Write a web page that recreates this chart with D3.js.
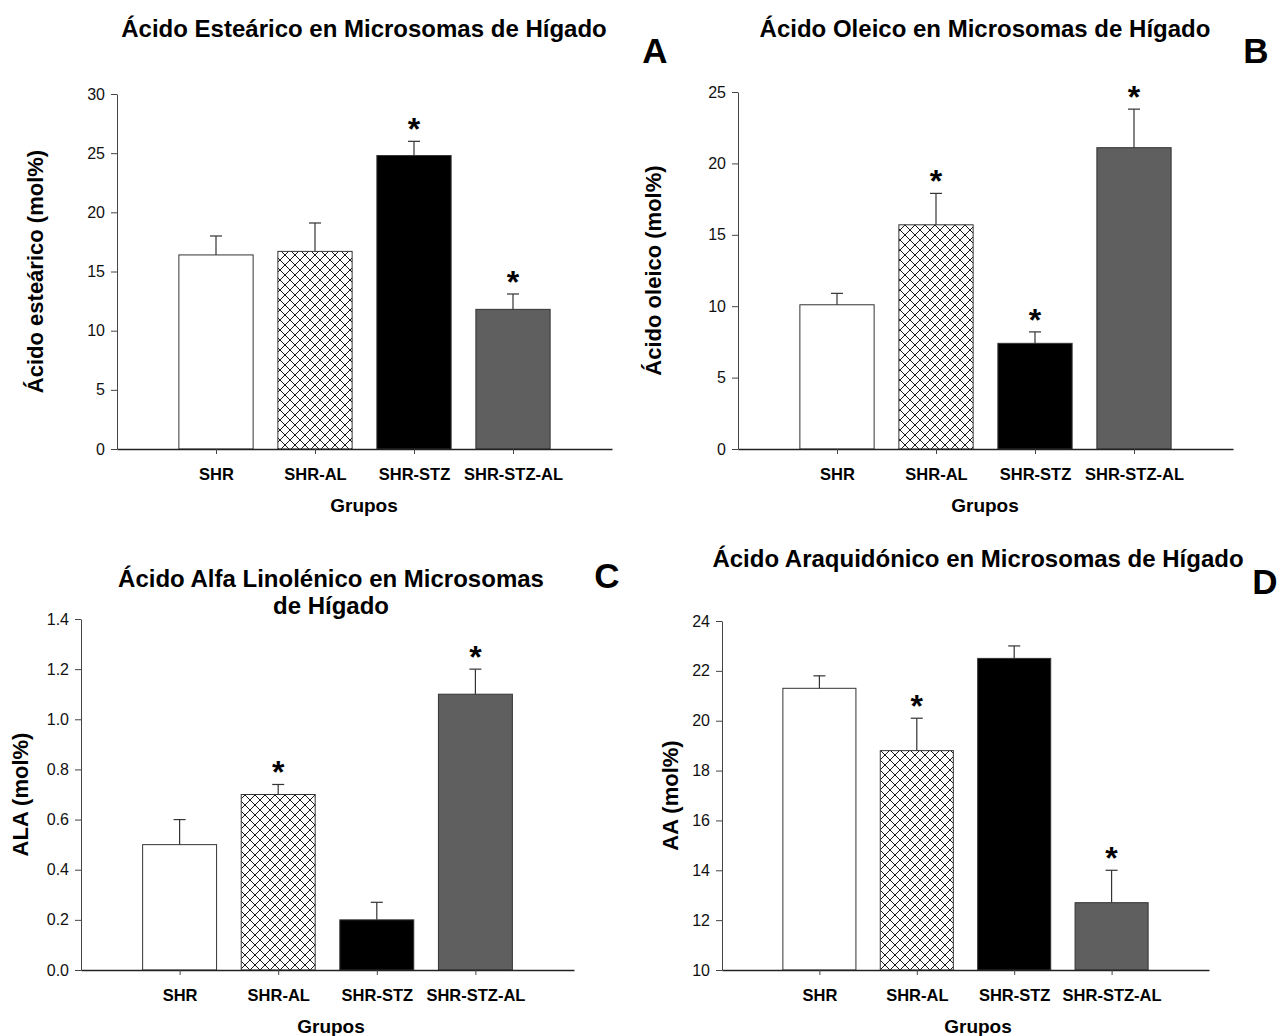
<!DOCTYPE html>
<html>
<head>
<meta charset="utf-8">
<script src="https://cdn.jsdelivr.net/npm/d3@7"></script>
<style>
  body { margin: 0; background: #fff; }
  svg text { font-family: Arial, "Liberation Sans", sans-serif; fill: #000; }
  .tickLbl text { font-size: 16px; fill: #111; }
  .catLbl text { font-size: 16.5px; font-weight: bold; }
</style>
</head>
<body>
<div id="chart"></div>
<script>
// groups and values (mol%)
var groups = ["SHR", "SHR-AL", "SHR-STZ", "SHR-STZ-AL"];
var groupFill = ["#ffffff", "url(#cross)", "#000000", "#5f5f5f"];

var stearic = [16.4, 16.7, 24.8, 11.8];
var stearicSE = [1.6, 2.4, 1.2, 1.3];
var stearicSig = [false, false, true, true];

var oleic = [10.1, 15.7, 7.4, 21.1];
var oleicSE = [0.8, 2.2, 0.8, 2.7];
var oleicSig = [false, true, true, true];

var ala = [0.5, 0.7, 0.2, 1.1];
var alaSE = [0.1, 0.04, 0.07, 0.1];
var alaSig = [false, true, false, true];

var aa = [21.3, 18.8, 22.5, 12.7];
var aaSE = [0.5, 1.3, 0.5, 1.3];
var aaSig = [false, true, false, true];

var stearicTicks = [0, 5, 10, 15, 20, 25, 30];
var oleicTicks = [0, 5, 10, 15, 20, 25];
var alaTicks = [0, 0.2, 0.4, 0.6, 0.8, 1.0, 1.2, 1.4];
var aaTicks = [10, 12, 14, 16, 18, 20, 22, 24];

var svg = d3.select("#chart").append("svg")
  .attr("width", 1280).attr("height", 1036);

var defs = svg.append("defs");
var pat = defs.append("pattern")
  .attr("id", "cross").attr("patternUnits", "userSpaceOnUse")
  .attr("width", 10).attr("height", 10);
pat.append("rect").attr("width", 10).attr("height", 10).attr("fill", "#fff");
pat.append("path").attr("d", "M0,0L10,10M10,0L0,10")
  .attr("stroke", "#000").attr("stroke-width", 0.9);

function drawPanel(o) {
  var g = svg.append("g");
  var x = d3.scaleLinear().domain([0, 5]).range([o.left, o.right]);
  var y = d3.scaleLinear().domain(o.yDomain).range([o.bottom, o.top]);
  var bw = (x(1) - x(0)) * 0.75;

  // bars
  g.selectAll(".bar").data(o.vals).enter().append("rect")
    .attr("x", function(d, i) { return x(i + 1) - bw / 2; })
    .attr("y", function(d) { return y(d); })
    .attr("width", bw)
    .attr("height", function(d) { return y(o.yDomain[0]) - y(d); })
    .attr("fill", function(d, i) { return groupFill[i]; })
    .attr("stroke", "#333").attr("stroke-width", 1);

  // error bars (upper only)
  var eg = g.append("g").attr("stroke", "#333").attr("stroke-width", 1.2);
  o.vals.forEach(function(v, i) {
    var cx = x(i + 1), top = y(v + o.se[i]);
    eg.append("line").attr("x1", cx).attr("x2", cx).attr("y1", y(v)).attr("y2", top);
    eg.append("line").attr("x1", cx - 6).attr("x2", cx + 6).attr("y1", top).attr("y2", top);
    if (o.sig[i]) {
      g.append("text").attr("x", cx).attr("y", top - 1)
        .attr("text-anchor", "middle").attr("font-size", "32px").attr("font-weight", "bold")
        .text("*");
    }
  });

  // y axis
  var ya = g.append("g").attr("class", "tickLbl")
    .attr("transform", "translate(" + o.left + ",0)")
    .call(d3.axisLeft(y).tickValues(o.ticks).tickSize(6).tickSizeOuter(0).tickPadding(6)
      .tickFormat(o.fmt));
  ya.selectAll("line,path").attr("stroke", "#444");

  // x axis
  var xa = g.append("g").attr("class", "catLbl")
    .attr("transform", "translate(0," + o.bottom + ")")
    .call(d3.axisBottom(x).tickValues([1, 2, 3, 4]).tickSize(5).tickSizeOuter(0).tickPadding(14)
      .tickFormat(function(d) { return groups[d - 1]; }));
  xa.selectAll("line").attr("stroke", "#444");
  xa.select(".domain").attr("stroke", "#222").attr("stroke-width", 1.5);

  // titles and labels
  o.title.forEach(function(t, k) {
    g.append("text").attr("x", o.titleX).attr("y", o.titleY + k * 27)
      .attr("text-anchor", "middle").attr("font-size", "24px").attr("font-weight", "bold")
      .text(t);
  });
  g.append("text").attr("x", o.letterX).attr("y", o.letterY)
    .attr("text-anchor", "middle").attr("font-size", "35px").attr("font-weight", "bold")
    .text(o.letter);
  g.append("text").attr("transform", "translate(" + o.yLabX + "," + ((o.top + o.bottom) / 2) + ") rotate(-90)")
    .attr("text-anchor", "middle").attr("font-size", "22px").attr("font-weight", "bold")
    .text(o.yLabel);
  g.append("text").attr("x", o.xLabX).attr("y", o.bottom + 63)
    .attr("text-anchor", "middle").attr("font-size", "19px").attr("font-weight", "bold")
    .text("Grupos");
}

drawPanel({ vals: stearic, se: stearicSE, sig: stearicSig, ticks: stearicTicks, fmt: d3.format("d"),
  yDomain: [0, 30], left: 117, right: 612, top: 94, bottom: 449,
  title: ["Ácido Esteárico en Microsomas de Hígado"], titleX: 364, titleY: 37,
  letter: "A", letterX: 655, letterY: 63, yLabel: "Ácido esteárico (mol%)", yLabX: 43, xLabX: 364 });

drawPanel({ vals: oleic, se: oleicSE, sig: oleicSig, ticks: oleicTicks, fmt: d3.format("d"),
  yDomain: [0, 25], left: 738, right: 1233, top: 92, bottom: 449,
  title: ["Ácido Oleico en Microsomas de Hígado"], titleX: 985, titleY: 37,
  letter: "B", letterX: 1256, letterY: 63, yLabel: "Ácido oleico (mol%)", yLabX: 661, xLabX: 985 });

drawPanel({ vals: ala, se: alaSE, sig: alaSig, ticks: alaTicks, fmt: d3.format(".1f"),
  yDomain: [0, 1.4], left: 81, right: 574, top: 619, bottom: 970,
  title: ["Ácido Alfa Linolénico en Microsomas", "de Hígado"], titleX: 331, titleY: 587,
  letter: "C", letterX: 607, letterY: 588, yLabel: "ALA (mol%)", yLabX: 28, xLabX: 331 });

drawPanel({ vals: aa, se: aaSE, sig: aaSig, ticks: aaTicks, fmt: d3.format("d"),
  yDomain: [10, 24], left: 722, right: 1209, top: 621, bottom: 970,
  title: ["Ácido Araquidónico en Microsomas de Hígado"], titleX: 978, titleY: 567,
  letter: "D", letterX: 1265, letterY: 594, yLabel: "AA (mol%)", yLabX: 678, xLabX: 978 });
</script>
</body>
</html>
